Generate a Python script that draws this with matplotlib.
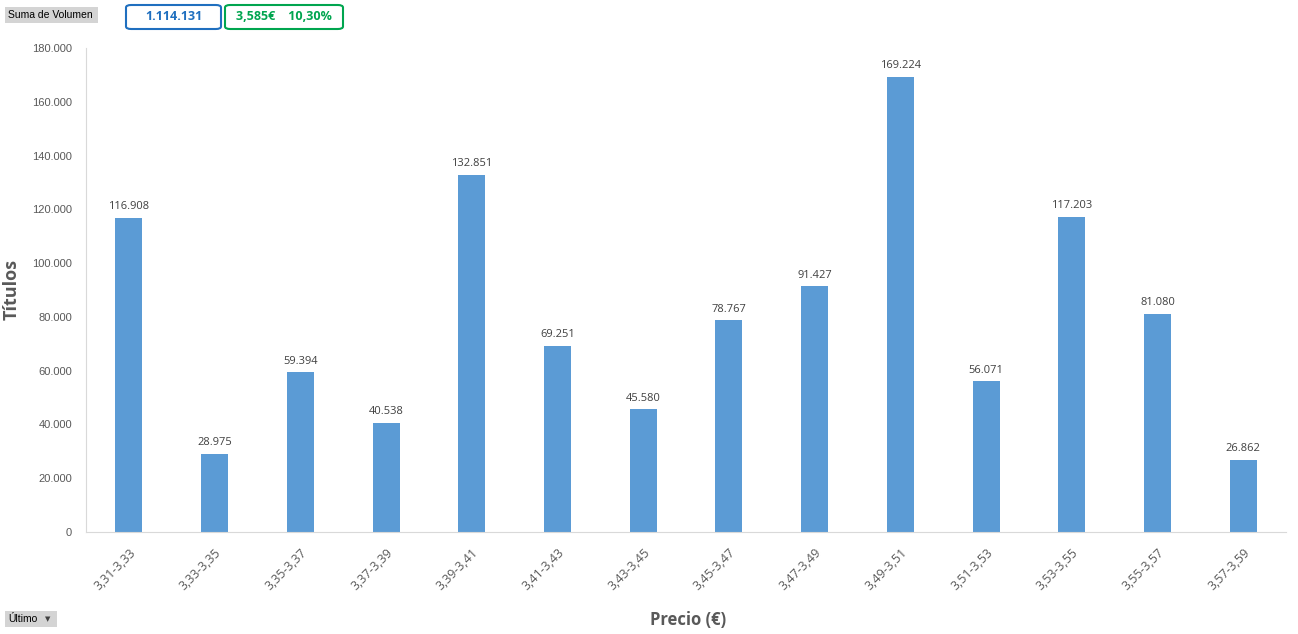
import matplotlib.pyplot as plt
from matplotlib.patches import FancyBboxPatch, Rectangle

rangos = ['3,31-3,33', '3,33-3,35', '3,35-3,37', '3,37-3,39', '3,39-3,41', '3,41-3,43', '3,43-3,45',
          '3,45-3,47', '3,47-3,49', '3,49-3,51', '3,51-3,53', '3,53-3,55', '3,55-3,57', '3,57-3,59']
volumen = [116908, 28975, 59394, 40538, 132851, 69251, 45580,
           78767, 91427, 169224, 56071, 117203, 81080, 26862]
yticks = [0, 20000, 40000, 60000, 80000, 100000, 120000, 140000, 160000, 180000]


def miles(v):
    return f'{v:,}'.replace(',', '.')


fig = plt.figure(figsize=(12.98, 6.34), dpi=100)
ax = fig.add_axes([0.0663, 0.1609, 0.9245, 0.7634])

x = range(len(rangos))
ax.bar(x, volumen, width=0.315, color='#5B9BD5')
for i, v in zip(x, volumen):
    # etiqueta encima de cada barra
    ax.annotate(miles(v), (i, v), xytext=(0, 8), textcoords='offset points',
                ha='center', va='center', fontsize=8, color='#404040', family='Open Sans')

ax.set_xlim(-0.5, len(rangos) - 0.5)
ax.set_ylim(0, 180000)
ax.set_yticks(yticks)
ax.set_yticklabels([miles(t) for t in yticks], fontsize=8, color='#595959', family='Liberation Sans')
ax.set_xticks(list(x))
ax.set_xticklabels(rangos, rotation=45, ha='right', rotation_mode='anchor',
                   fontsize=9, color='#595959', family='Open Sans')
ax.tick_params(axis='y', length=0, pad=10)
ax.tick_params(axis='x', length=0, pad=10)

for s in ['top', 'right']:
    ax.spines[s].set_visible(False)
ax.spines['left'].set_color('#D9D9D9')
ax.spines['bottom'].set_color('#D9D9D9')

fig.text(0.0092, 0.543, 'Títulos', rotation=90, ha='center', va='center',
         fontsize=13, fontweight='bold', color='#595959', family='Open Sans')
fig.text(0.530, 0.022, 'Precio (€)', ha='center', va='center',
         fontsize=12, fontweight='bold', color='#595959', family='Open Sans')

# botones superiores
fig.patches.append(Rectangle((5 / 1298, 1 - 23 / 634), 93 / 1298, 16 / 634,
                             transform=fig.transFigure, facecolor='#D4D4D4', edgecolor='none'))
fig.text(8 / 1298, 1 - 15 / 634, 'Suma de Volumen', ha='left', va='center',
         fontsize=7.5, color='#000000', family='Liberation Sans')

fig.patches.append(FancyBboxPatch((126 / 1298, 1 - 29 / 634), 95 / 1298, 24 / 634,
                                  boxstyle='round,pad=0,rounding_size=0.004',
                                  transform=fig.transFigure, facecolor='white',
                                  edgecolor='#1F6FBF', linewidth=1.5))
fig.text(173.5 / 1298, 1 - 17 / 634, '1.114.131', ha='center', va='center',
         fontsize=9, fontweight='bold', color='#1F6FBF', family='Open Sans')

fig.patches.append(FancyBboxPatch((225 / 1298, 1 - 29 / 634), 118 / 1298, 24 / 634,
                                  boxstyle='round,pad=0,rounding_size=0.004',
                                  transform=fig.transFigure, facecolor='white',
                                  edgecolor='#00A54F', linewidth=1.5))
fig.text(284 / 1298, 1 - 17 / 634, '3,585€    10,30%', ha='center', va='center',
         fontsize=9, fontweight='bold', color='#00A54F', family='Open Sans')

# boton inferior
fig.patches.append(Rectangle((5 / 1298, 1 - 627 / 634), 52 / 1298, 16 / 634,
                             transform=fig.transFigure, facecolor='#D4D4D4', edgecolor='none'))
fig.text(8 / 1298, 1 - 619 / 634, 'Último', ha='left', va='center',
         fontsize=7.5, color='#000000', family='Liberation Sans')
fig.text(48 / 1298, 1 - 619 / 634, '▼', ha='center', va='center',
         fontsize=5, color='#404040', family='DejaVu Sans')

fig.savefig('out.png', dpi=100)
